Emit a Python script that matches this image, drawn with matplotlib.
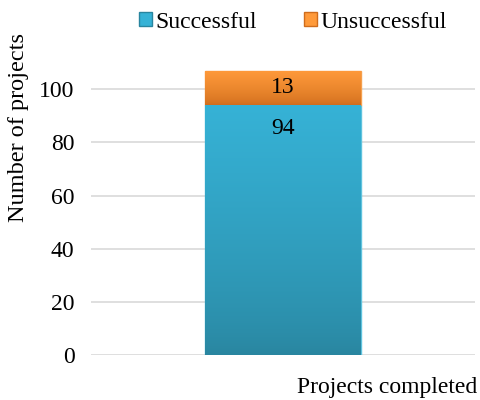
import matplotlib.pyplot as plt
import matplotlib.colors as mcolors
import numpy as np
from matplotlib.patches import Patch

plt.rcParams["font.family"] = ["Liberation Serif", "DejaVu Serif"]

# Data
categories = ["Projects completed"]
series_names = ["Successful", "Unsuccessful"]
successful = [94]
unsuccessful = [13]

# Top / bottom colours for the vertical gradient of each series
gradients = {
    "Successful": ("#36b2d6", "#29859f"),
    "Unsuccessful": ("#ff9a3a", "#cf6c1c"),
}


def gradient_bar(ax, bar, top_color, bottom_color):
    """Fill a bar patch with a vertical gradient clipped to its outline."""
    x0, y0 = bar.get_x(), bar.get_y()
    w, h = bar.get_width(), bar.get_height()
    cmap = mcolors.LinearSegmentedColormap.from_list("g", [bottom_color, top_color])
    grad = np.linspace(0, 1, 256).reshape(-1, 1) ** 0.7
    im = ax.imshow(grad, cmap=cmap, aspect="auto", origin="lower",
                   extent=(x0, x0 + w, y0, y0 + h), zorder=bar.get_zorder())
    im.set_clip_path(bar)
    bar.set_facecolor("none")


fig = plt.figure(figsize=(4.8, 4.0), dpi=100)
ax = fig.add_axes([0.19, 0.112, 0.80, 0.798])

x = np.arange(len(categories))
width = 0.405
bars_s = ax.bar(x, successful, width, color="none", edgecolor="#5fc3de",
                linewidth=1.0, zorder=3)
bars_u = ax.bar(x, unsuccessful, width, bottom=successful, color="none",
                edgecolor="#f5a04e", linewidth=1.0, zorder=3)

for bar in bars_s:
    gradient_bar(ax, bar, *gradients["Successful"])
for bar in bars_u:
    gradient_bar(ax, bar, *gradients["Unsuccessful"])

# Value labels: successful at the inside end, unsuccessful centred
for xi, s, u in zip(x, successful, unsuccessful):
    ax.text(xi, s - 4.8, str(s), ha="center", va="top", fontsize=17, zorder=5)
    ax.text(xi, s + u / 2, str(u), ha="center", va="center", fontsize=17, zorder=5)

ax.set_xlim(-0.5, 0.5)
ax.set_ylim(0, 120)
ax.set_yticks([0, 20, 40, 60, 80, 100])
ax.tick_params(axis="y", length=0, labelsize=17, pad=12)
ax.set_xticks([])
ax.grid(axis="y", color="#d9d9d9", linewidth=1.2, zorder=0)
ax.set_axisbelow(True)
for spine in ax.spines.values():
    spine.set_visible(False)

fig.text(0.038, 0.68, "Number of projects", rotation=90, ha="center", va="center",
         fontsize=17.5)
fig.text(0.995, 0.03, categories[0], ha="right", va="center", fontsize=17)

handles = [Patch(facecolor=gradients[n][0], edgecolor=gradients[n][1]) for n in series_names]
fig.legend(handles, series_names, loc="center", bbox_to_anchor=(0.61, 0.945), ncol=2,
           frameon=False, fontsize=17, handlelength=0.55, handleheight=0.55,
           handletextpad=0.15, columnspacing=2.0)

fig.savefig("out.png", dpi=100)
